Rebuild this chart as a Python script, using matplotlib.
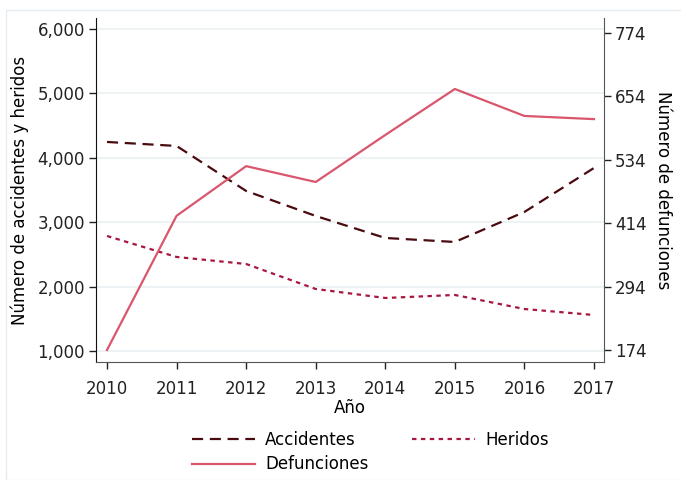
import matplotlib.pyplot as plt
from matplotlib.patches import Rectangle

plt.rcParams['font.family'] = ['DejaVu Sans']

anios = [2010, 2011, 2012, 2013, 2014, 2015, 2016, 2017]
accidentes = [4246, 4184, 3485, 3097, 2755, 2693, 3159, 3842]
heridos = [2786, 2460, 2351, 1963, 1823, 1870, 1652, 1559]
defunciones = [174, 428, 522, 492, 581, 668, 617, 611]

izq_ticks = [1000, 2000, 3000, 4000, 5000, 6000]
der_ticks = [174, 294, 414, 534, 654, 774]

fs = 12

fig = plt.figure(figsize=(6.81, 4.8), dpi=100)
fig.patches.append(Rectangle((6/681, 0), 1, 1 - 10/480, transform=fig.transFigure,
                             fill=False, edgecolor='#e6edf2', linewidth=1))
ax = fig.add_axes([96/681, 1 - 362/480, 508/681, 344/480])
ax2 = ax.twinx()

l1, = ax.plot(anios, accidentes, color='#4a0a0f', lw=1.6, linestyle=(0, (5, 3)), label='Accidentes')
l2, = ax.plot(anios, heridos, color='#a8173f', lw=1.6, linestyle=(0, (2, 2)), label='Heridos')
l3, = ax2.plot(anios, defunciones, color='#d9566c', lw=1.6, label='Defunciones')

ax.set_xlim(2009.842, 2017.144)
ax.set_ylim(829, 6171)
ax2.set_ylim(151.3, 802.4)
ax.set_xticks(anios)
ax.set_yticks(izq_ticks)
ax.set_yticklabels([f'{v:,}' for v in izq_ticks])
ax2.set_yticks(der_ticks)

ax.grid(axis='y', color='#eaf0f4', lw=1.2)
ax.set_axisbelow(True)
for a in (ax, ax2):
    a.spines['top'].set_visible(False)
    a.tick_params(labelsize=fs, colors='#222222', length=5, width=1, pad=3)
ax.tick_params(axis='x', pad=8)
ax.spines['left'].set_color('#111111')
ax.spines['bottom'].set_color('#555555')
ax.spines['right'].set_visible(False)
ax2.spines['left'].set_visible(False)
ax2.spines['bottom'].set_visible(False)
ax2.spines['right'].set_color('#555555')

ax.set_xlabel('Año', fontsize=fs, labelpad=1)
ax.set_ylabel('Número de accidentes y heridos', fontsize=fs, labelpad=6)
ax2.set_ylabel('Número de defunciones', fontsize=fs, rotation=270, labelpad=18)

fig.legend(handles=[l1, l3, l2], ncol=2, loc='upper left', bbox_to_anchor=(185/681, 1 - 424/480),
           frameon=False, fontsize=fs, handlelength=3.8, columnspacing=2.6, labelspacing=0.4,
           handletextpad=0.6, borderaxespad=0)

fig.savefig('out.png', dpi=100)
